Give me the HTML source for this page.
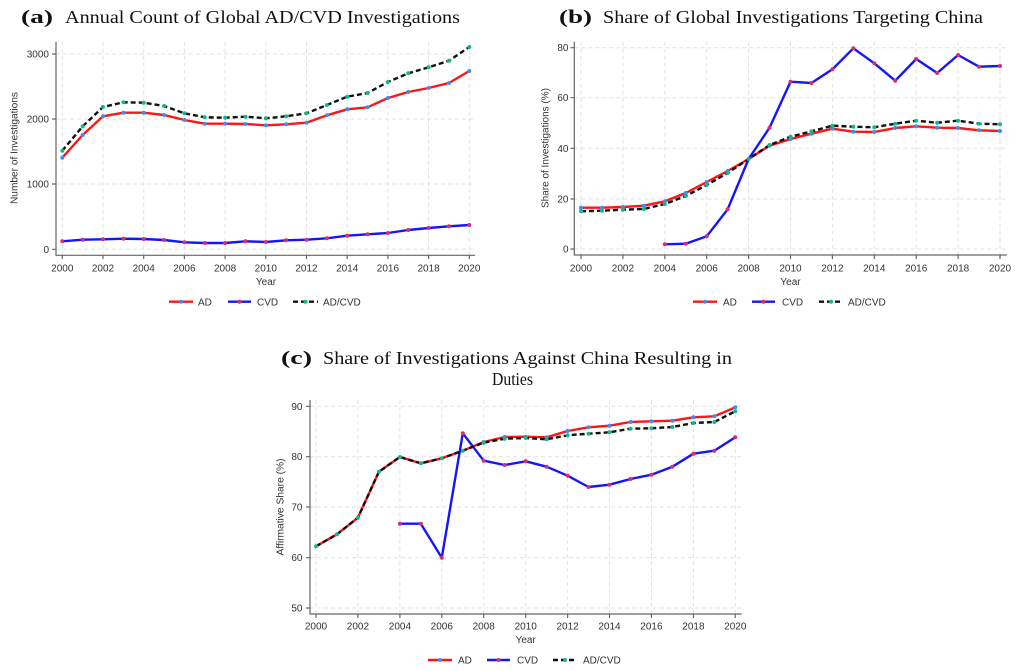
<!DOCTYPE html>
<html><head><meta charset="utf-8"><style>
html,body{margin:0;padding:0;background:#fff;}
svg{display:block;}
.t{font-family:"Liberation Serif",serif;font-size:18px;fill:#111;}
.tb{font-family:"Liberation Serif",serif;font-size:19px;font-weight:bold;fill:#111;}
.tk{font-family:"Liberation Sans",sans-serif;font-size:10px;fill:#333;}
.grid{stroke:#e2e2e2;stroke-width:1;stroke-dasharray:4,3;fill:none;}
.ax{stroke:#666;stroke-width:1.2;fill:none;}
.red{stroke:#ff1414;stroke-width:2.4;fill:none;stroke-linejoin:round;}
.blue{stroke:#1414ff;stroke-width:2.4;fill:none;stroke-linejoin:round;}
.blk{stroke:#111;stroke-width:2.4;fill:none;stroke-dasharray:5,3;}
.mA{fill:#3d8ef0;}
.mC{fill:#d92e6a;}
.mB{fill:#12b886;}
</style></head><body>
<svg width="1024" height="671" viewBox="0 0 1024 671" xmlns="http://www.w3.org/2000/svg">
<rect width="1024" height="671" fill="#fff"/>

<!-- ================= PANEL A ================= -->
<text class="tb" x="21" y="23" textLength="32" lengthAdjust="spacingAndGlyphs">(a)</text>
<text class="t" x="65" y="23" textLength="395" lengthAdjust="spacingAndGlyphs">Annual Count of Global AD/CVD Investigations</text>
<g>
<path class="grid" d="M56 54H475M56 119H475M56 184H475M56 249.3H475"/>
<path class="grid" d="M62.3 41.7V255M103 41.7V255M143.7 41.7V255M184.4 41.7V255M225.1 41.7V255M265.8 41.7V255M306.5 41.7V255M347.2 41.7V255M387.9 41.7V255M428.6 41.7V255M469.3 41.7V255"/>
<path class="ax" d="M56 41.7V255.3H475"/>
<path class="ax" d="M52 54H56M52 119H56M52 184H56M52 249.3H56"/>
<path class="ax" d="M62.3 255.3V259M103 255.3V259M143.7 255.3V259M184.4 255.3V259M225.1 255.3V259M265.8 255.3V259M306.5 255.3V259M347.2 255.3V259M387.9 255.3V259M428.6 255.3V259M469.3 255.3V259"/>
<g class="tk" text-anchor="end">
<text x="49" y="57.5">3000</text><text x="49" y="122.5">2000</text><text x="49" y="187.5">1000</text><text x="49" y="252.8">0</text>
</g>
<g class="tk" text-anchor="middle">
<text x="62.3" y="271.5">2000</text><text x="103" y="271.5">2002</text><text x="143.7" y="271.5">2004</text><text x="184.4" y="271.5">2006</text><text x="225.1" y="271.5">2008</text><text x="265.8" y="271.5">2010</text><text x="306.5" y="271.5">2012</text><text x="347.2" y="271.5">2014</text><text x="387.9" y="271.5">2016</text><text x="428.6" y="271.5">2018</text><text x="469.3" y="271.5">2020</text>
<text x="266" y="285">Year</text>
<text x="0" y="0" transform="translate(17.5,148) rotate(-90)" textLength="112" lengthAdjust="spacingAndGlyphs">Number of Investigations</text>
</g>
<polyline class="red" points="62.3,157.7 82.7,135 103,116.3 123.4,112.7 143.7,112.7 164.1,115 184.4,120 204.8,123.7 225.1,123.7 245.5,124 265.8,125.3 286.2,124.3 306.5,122.7 326.9,115.3 347.2,109.3 367.6,107.3 387.9,98 408.3,92 428.6,88 449,83 469.3,71"/>
<polyline class="blue" points="62.3,241.3 82.7,239.7 103,239.3 123.4,238.7 143.7,239 164.1,240 184.4,242.3 204.8,243 225.1,243 245.5,241.3 265.8,242 286.2,240.3 306.5,239.7 326.9,238.3 347.2,235.7 367.6,234.3 387.9,233 408.3,230 428.6,228 449,226.3 469.3,225"/>
<polyline class="blk" points="62.3,150.7 82.7,126.3 103,107 123.4,102.3 143.7,102.7 164.1,106 184.4,113.3 204.8,117.3 225.1,117.7 245.5,116.7 265.8,118.3 286.2,116.3 306.5,113.3 326.9,105 347.2,96.7 367.6,93 387.9,82 408.3,73.3 428.6,67.3 449,60.7 469.3,47"/>
<g class="mA">
<circle cx="62.3" cy="157.7" r="2"/><circle cx="82.7" cy="135" r="2"/><circle cx="103" cy="116.3" r="2"/><circle cx="123.4" cy="112.7" r="2"/><circle cx="143.7" cy="112.7" r="2"/><circle cx="164.1" cy="115" r="2"/><circle cx="184.4" cy="120" r="2"/><circle cx="204.8" cy="123.7" r="2"/><circle cx="225.1" cy="123.7" r="2"/><circle cx="245.5" cy="124" r="2"/><circle cx="265.8" cy="125.3" r="2"/><circle cx="286.2" cy="124.3" r="2"/><circle cx="306.5" cy="122.7" r="2"/><circle cx="326.9" cy="115.3" r="2"/><circle cx="347.2" cy="109.3" r="2"/><circle cx="367.6" cy="107.3" r="2"/><circle cx="387.9" cy="98" r="2"/><circle cx="408.3" cy="92" r="2"/><circle cx="428.6" cy="88" r="2"/><circle cx="449" cy="83" r="2"/><circle cx="469.3" cy="71" r="2"/>
</g>
<g class="mC">
<circle cx="62.3" cy="241.3" r="2"/><circle cx="82.7" cy="239.7" r="2"/><circle cx="103" cy="239.3" r="2"/><circle cx="123.4" cy="238.7" r="2"/><circle cx="143.7" cy="239" r="2"/><circle cx="164.1" cy="240" r="2"/><circle cx="184.4" cy="242.3" r="2"/><circle cx="204.8" cy="243" r="2"/><circle cx="225.1" cy="243" r="2"/><circle cx="245.5" cy="241.3" r="2"/><circle cx="265.8" cy="242" r="2"/><circle cx="286.2" cy="240.3" r="2"/><circle cx="306.5" cy="239.7" r="2"/><circle cx="326.9" cy="238.3" r="2"/><circle cx="347.2" cy="235.7" r="2"/><circle cx="367.6" cy="234.3" r="2"/><circle cx="387.9" cy="233" r="2"/><circle cx="408.3" cy="230" r="2"/><circle cx="428.6" cy="228" r="2"/><circle cx="449" cy="226.3" r="2"/><circle cx="469.3" cy="225" r="2"/>
</g>
<g class="mB">
<circle cx="62.3" cy="150.7" r="2"/><circle cx="82.7" cy="126.3" r="2"/><circle cx="103" cy="107" r="2"/><circle cx="123.4" cy="102.3" r="2"/><circle cx="143.7" cy="102.7" r="2"/><circle cx="164.1" cy="106" r="2"/><circle cx="184.4" cy="113.3" r="2"/><circle cx="204.8" cy="117.3" r="2"/><circle cx="225.1" cy="117.7" r="2"/><circle cx="245.5" cy="116.7" r="2"/><circle cx="265.8" cy="118.3" r="2"/><circle cx="286.2" cy="116.3" r="2"/><circle cx="306.5" cy="113.3" r="2"/><circle cx="326.9" cy="105" r="2"/><circle cx="347.2" cy="96.7" r="2"/><circle cx="367.6" cy="93" r="2"/><circle cx="387.9" cy="82" r="2"/><circle cx="408.3" cy="73.3" r="2"/><circle cx="428.6" cy="67.3" r="2"/><circle cx="449" cy="60.7" r="2"/><circle cx="469.3" cy="47" r="2"/>
</g>
<!-- legend a -->
<path class="red" d="M169 301.7H193"/><circle class="mA" cx="181" cy="301.7" r="2"/>
<text class="tk" x="198" y="305.5">AD</text>
<path class="blue" d="M228 301.7H251"/><circle class="mC" cx="239.5" cy="301.7" r="2"/>
<text class="tk" x="257" y="305.5">CVD</text>
<path class="blk" d="M293 301.7H318"/><circle class="mB" cx="305.5" cy="301.7" r="2"/>
<text class="tk" x="323" y="305.5">AD/CVD</text>
</g>

<!-- ================= PANEL B ================= -->
<text class="tb" x="559" y="23" textLength="33" lengthAdjust="spacingAndGlyphs">(b)</text>
<text class="t" x="603" y="23" textLength="380" lengthAdjust="spacingAndGlyphs">Share of Global Investigations Targeting China</text>
<g>
<path class="grid" d="M574.3 47.7H1006.7M574.3 97.7H1006.7M574.3 148.3H1006.7M574.3 199H1006.7M574.3 249H1006.7"/>
<path class="grid" d="M581 41.7V255M622.9 41.7V255M664.8 41.7V255M706.7 41.7V255M748.6 41.7V255M790.5 41.7V255M832.4 41.7V255M874.3 41.7V255M916.2 41.7V255M958.1 41.7V255M1000 41.7V255"/>
<path class="ax" d="M574.3 41.7V255H1006.7"/>
<path class="ax" d="M570.5 47.7H574.3M570.5 97.7H574.3M570.5 148.3H574.3M570.5 199H574.3M570.5 249H574.3"/>
<path class="ax" d="M581 255V259M622.9 255V259M664.8 255V259M706.7 255V259M748.6 255V259M790.5 255V259M832.4 255V259M874.3 255V259M916.2 255V259M958.1 255V259M1000 255V259"/>
<g class="tk" text-anchor="end">
<text x="568.5" y="51.2">80</text><text x="568.5" y="101.2">60</text><text x="568.5" y="151.8">40</text><text x="568.5" y="202.5">20</text><text x="568.5" y="252.5">0</text>
</g>
<g class="tk" text-anchor="middle">
<text x="581" y="271.5">2000</text><text x="622.9" y="271.5">2002</text><text x="664.8" y="271.5">2004</text><text x="706.7" y="271.5">2006</text><text x="748.6" y="271.5">2008</text><text x="790.5" y="271.5">2010</text><text x="832.4" y="271.5">2012</text><text x="874.3" y="271.5">2014</text><text x="916.2" y="271.5">2016</text><text x="958.1" y="271.5">2018</text><text x="1000" y="271.5">2020</text>
<text x="790.5" y="285">Year</text>
<text x="0" y="0" transform="translate(548.5,148) rotate(-90)" textLength="120" lengthAdjust="spacingAndGlyphs">Share of Investigations (%)</text>
</g>
<polyline class="red" points="581,207.7 601.95,207.7 622.9,207 643.85,205.7 664.8,201.3 685.75,193 706.7,182 727.65,171 748.6,159 769.55,145.7 790.5,139 811.45,133.7 832.4,128.7 853.35,131.7 874.3,132 895.25,128 916.2,126.3 937.15,127.7 958.1,128 979.05,130.3 1000,131"/>
<polyline class="blue" points="664.8,244.3 685.75,243.7 706.7,236.3 727.65,209.3 748.6,159 769.55,127.7 790.5,81.7 811.45,83 832.4,69.3 853.35,48.3 874.3,63.3 895.25,80.7 916.2,59 937.15,73 958.1,55 979.05,66.7 1000,66"/>
<polyline class="blk" points="581,211.3 601.95,210.7 622.9,209.7 643.85,209 664.8,204 685.75,196 706.7,185 727.65,173 748.6,159 769.55,145 790.5,136.7 811.45,131.3 832.4,125.7 853.35,126.7 874.3,127.3 895.25,123.7 916.2,120.7 937.15,122.7 958.1,120.7 979.05,123.7 1000,124.3"/>
<g class="mA">
<circle cx="581" cy="207.7" r="2"/><circle cx="601.95" cy="207.7" r="2"/><circle cx="622.9" cy="207" r="2"/><circle cx="643.85" cy="205.7" r="2"/><circle cx="664.8" cy="201.3" r="2"/><circle cx="685.75" cy="193" r="2"/><circle cx="706.7" cy="182" r="2"/><circle cx="727.65" cy="171" r="2"/><circle cx="748.6" cy="159" r="2"/><circle cx="769.55" cy="145.7" r="2"/><circle cx="790.5" cy="139" r="2"/><circle cx="811.45" cy="133.7" r="2"/><circle cx="832.4" cy="128.7" r="2"/><circle cx="853.35" cy="131.7" r="2"/><circle cx="874.3" cy="132" r="2"/><circle cx="895.25" cy="128" r="2"/><circle cx="916.2" cy="126.3" r="2"/><circle cx="937.15" cy="127.7" r="2"/><circle cx="958.1" cy="128" r="2"/><circle cx="979.05" cy="130.3" r="2"/><circle cx="1000" cy="131" r="2"/>
</g>
<g class="mC">
<circle cx="664.8" cy="244.3" r="2"/><circle cx="685.75" cy="243.7" r="2"/><circle cx="706.7" cy="236.3" r="2"/><circle cx="727.65" cy="209.3" r="2"/><circle cx="769.55" cy="127.7" r="2"/><circle cx="790.5" cy="81.7" r="2"/><circle cx="811.45" cy="83" r="2"/><circle cx="832.4" cy="69.3" r="2"/><circle cx="853.35" cy="48.3" r="2"/><circle cx="874.3" cy="63.3" r="2"/><circle cx="895.25" cy="80.7" r="2"/><circle cx="916.2" cy="59" r="2"/><circle cx="937.15" cy="73" r="2"/><circle cx="958.1" cy="55" r="2"/><circle cx="979.05" cy="66.7" r="2"/><circle cx="1000" cy="66" r="2"/>
</g>
<g class="mB">
<circle cx="581" cy="211.3" r="2"/><circle cx="601.95" cy="210.7" r="2"/><circle cx="622.9" cy="209.7" r="2"/><circle cx="643.85" cy="209" r="2"/><circle cx="664.8" cy="204" r="2"/><circle cx="685.75" cy="196" r="2"/><circle cx="706.7" cy="185" r="2"/><circle cx="727.65" cy="173" r="2"/><circle cx="748.6" cy="159" r="2"/><circle cx="769.55" cy="145" r="2"/><circle cx="790.5" cy="136.7" r="2"/><circle cx="811.45" cy="131.3" r="2"/><circle cx="832.4" cy="125.7" r="2"/><circle cx="853.35" cy="126.7" r="2"/><circle cx="874.3" cy="127.3" r="2"/><circle cx="895.25" cy="123.7" r="2"/><circle cx="916.2" cy="120.7" r="2"/><circle cx="937.15" cy="122.7" r="2"/><circle cx="958.1" cy="120.7" r="2"/><circle cx="979.05" cy="123.7" r="2"/><circle cx="1000" cy="124.3" r="2"/>
</g>
<!-- legend b -->
<path class="red" d="M693 301.7H717"/><circle class="mA" cx="705" cy="301.7" r="2"/>
<text class="tk" x="723" y="305.5">AD</text>
<path class="blue" d="M752 301.7H775"/><circle class="mC" cx="763.5" cy="301.7" r="2"/>
<text class="tk" x="782" y="305.5">CVD</text>
<path class="blk" d="M819 301.7H843"/><circle class="mB" cx="831" cy="301.7" r="2"/>
<text class="tk" x="848" y="305.5">AD/CVD</text>
</g>

<!-- ================= PANEL C ================= -->
<text class="tb" x="281" y="364" textLength="31" lengthAdjust="spacingAndGlyphs">(c)</text>
<text class="t" x="323" y="364" textLength="409" lengthAdjust="spacingAndGlyphs">Share of Investigations Against China Resulting in</text>
<text class="t" x="492" y="385" textLength="41" lengthAdjust="spacingAndGlyphs">Duties</text>
<g>
<path class="grid" d="M310 406.3H741.7M310 456.7H741.7M310 507H741.7M310 557.7H741.7M310 608H741.7"/>
<path class="grid" d="M316 400V614M357.9 400V614M399.9 400V614M441.8 400V614M483.7 400V614M525.7 400V614M567.6 400V614M609.5 400V614M651.4 400V614M693.4 400V614M735.3 400V614"/>
<path class="ax" d="M310 400V614H741.7"/>
<path class="ax" d="M306 406.3H310M306 456.7H310M306 507H310M306 557.7H310M306 608H310"/>
<path class="ax" d="M316 614V618M357.9 614V618M399.9 614V618M441.8 614V618M483.7 614V618M525.7 614V618M567.6 614V618M609.5 614V618M651.4 614V618M693.4 614V618M735.3 614V618"/>
<g class="tk" text-anchor="end">
<text x="302.5" y="409.8">90</text><text x="302.5" y="460.2">80</text><text x="302.5" y="510.5">70</text><text x="302.5" y="561.2">60</text><text x="302.5" y="611.5">50</text>
</g>
<g class="tk" text-anchor="middle">
<text x="316" y="629.5">2000</text><text x="357.9" y="629.5">2002</text><text x="399.9" y="629.5">2004</text><text x="441.8" y="629.5">2006</text><text x="483.7" y="629.5">2008</text><text x="525.7" y="629.5">2010</text><text x="567.6" y="629.5">2012</text><text x="609.5" y="629.5">2014</text><text x="651.4" y="629.5">2016</text><text x="693.4" y="629.5">2018</text><text x="735.3" y="629.5">2020</text>
<text x="525.7" y="643">Year</text>
<text x="0" y="0" transform="translate(283.5,507) rotate(-90)" textLength="97" lengthAdjust="spacingAndGlyphs">Affirmative Share (%)</text>
</g>
<polyline class="red" points="316,546.3 337,534.3 357.9,517.7 378.9,471.7 399.9,457 420.8,463.3 441.8,458.3 462.8,450.7 483.7,442 504.7,437 525.7,436.7 546.6,437.3 567.6,431 588.5,427.3 609.5,425.7 630.5,422 651.4,421.3 672.4,420.7 693.4,417.3 714.3,416.3 735.3,407.3"/>
<polyline class="blue" points="399.9,523.7 420.8,523.7 441.8,557.7 462.8,433.3 483.7,460.7 504.7,465 525.7,461.3 546.6,466.7 567.6,475.7 588.5,487 609.5,484.7 630.5,479 651.4,474.7 672.4,466.7 693.4,453.7 714.3,450.7 735.3,437.3"/>
<polyline class="blk" points="316,546.3 337,534.3 357.9,517.7 378.9,471.7 399.9,457 420.8,463.3 441.8,458.3 462.8,450.7 483.7,442.7 504.7,438.7 525.7,438 546.6,439.3 567.6,435.3 588.5,433.7 609.5,432.3 630.5,428.7 651.4,428.3 672.4,427 693.4,423 714.3,422 735.3,411.3"/>
<g class="mA">
<circle cx="483.7" cy="442" r="2"/><circle cx="504.7" cy="437" r="2"/><circle cx="525.7" cy="436.7" r="2"/><circle cx="546.6" cy="437.3" r="2"/><circle cx="567.6" cy="431" r="2"/><circle cx="588.5" cy="427.3" r="2"/><circle cx="609.5" cy="425.7" r="2"/><circle cx="630.5" cy="422" r="2"/><circle cx="651.4" cy="421.3" r="2"/><circle cx="672.4" cy="420.7" r="2"/><circle cx="693.4" cy="417.3" r="2"/><circle cx="714.3" cy="416.3" r="2"/><circle cx="735.3" cy="407.3" r="2"/>
</g>
<g class="mC">
<circle cx="399.9" cy="523.7" r="2"/><circle cx="420.8" cy="523.7" r="2"/><circle cx="441.8" cy="557.7" r="2"/><circle cx="462.8" cy="433.3" r="2"/><circle cx="483.7" cy="460.7" r="2"/><circle cx="504.7" cy="465" r="2"/><circle cx="525.7" cy="461.3" r="2"/><circle cx="546.6" cy="466.7" r="2"/><circle cx="567.6" cy="475.7" r="2"/><circle cx="588.5" cy="487" r="2"/><circle cx="609.5" cy="484.7" r="2"/><circle cx="630.5" cy="479" r="2"/><circle cx="651.4" cy="474.7" r="2"/><circle cx="672.4" cy="466.7" r="2"/><circle cx="693.4" cy="453.7" r="2"/><circle cx="714.3" cy="450.7" r="2"/><circle cx="735.3" cy="437.3" r="2"/>
</g>
<g class="mB">
<circle cx="316" cy="546.3" r="2"/><circle cx="337" cy="534.3" r="2"/><circle cx="357.9" cy="517.7" r="2"/><circle cx="378.9" cy="471.7" r="2"/><circle cx="399.9" cy="457" r="2"/><circle cx="420.8" cy="463.3" r="2"/><circle cx="441.8" cy="458.3" r="2"/><circle cx="462.8" cy="450.7" r="2"/><circle cx="483.7" cy="442.7" r="2"/><circle cx="504.7" cy="438.7" r="2"/><circle cx="525.7" cy="438" r="2"/><circle cx="546.6" cy="439.3" r="2"/><circle cx="567.6" cy="435.3" r="2"/><circle cx="588.5" cy="433.7" r="2"/><circle cx="609.5" cy="432.3" r="2"/><circle cx="630.5" cy="428.7" r="2"/><circle cx="651.4" cy="428.3" r="2"/><circle cx="672.4" cy="427" r="2"/><circle cx="693.4" cy="423" r="2"/><circle cx="714.3" cy="422" r="2"/><circle cx="735.3" cy="411.3" r="2"/>
</g>
<!-- legend c -->
<path class="red" d="M428 660H452"/><circle class="mA" cx="440" cy="660" r="2"/>
<text class="tk" x="458" y="663.5">AD</text>
<path class="blue" d="M487 660H510"/><circle class="mC" cx="498.5" cy="660" r="2"/>
<text class="tk" x="517" y="663.5">CVD</text>
<path class="blk" d="M553 660H577"/><circle class="mB" cx="565" cy="660" r="2"/>
<text class="tk" x="583" y="663.5">AD/CVD</text>
</g>
</svg>
</body></html>
